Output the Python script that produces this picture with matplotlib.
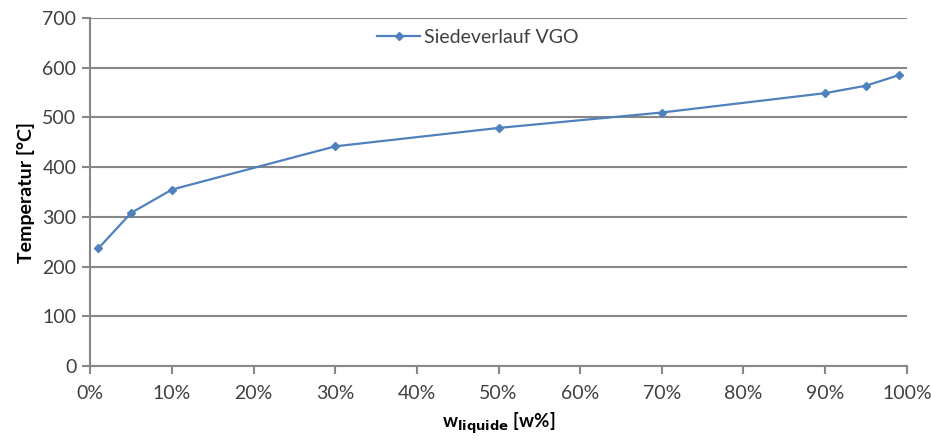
import numpy as np
import matplotlib.pyplot as plt
from matplotlib.ticker import FuncFormatter

plt.rcParams['font.family'] = ['Lato', 'DejaVu Sans']

# boiling curve VGO
w_liquide = [1, 5, 10, 30, 50, 70, 90, 95, 99]
temperatur = [237, 308, 355, 442, 479, 510, 549, 564, 585]
series_name = 'Siedeverlauf VGO'

grid_col = '#878787'
line_col = '#4F81BD'

fig = plt.figure(figsize=(9.31, 4.41), dpi=100)
ax = fig.add_axes([0.097, 0.17, 0.877, 0.789])

ax.plot(w_liquide, temperatur, color=line_col, lw=1.6, marker='D', ms=4.5,
        label=series_name)

ax.set_xlim(0, 100)
ax.set_ylim(0, 700)
ax.set_xticks(np.arange(0, 101, 10))
ax.set_yticks(np.arange(0, 701, 100))
ax.xaxis.set_major_formatter(FuncFormatter(lambda v, p: f'{v:.0f}%'))

ax.grid(axis='y', color=grid_col, lw=1.5)
ax.set_axisbelow(True)
for s in ['top', 'right']:
    ax.spines[s].set_visible(False)
for s in ['left', 'bottom']:
    ax.spines[s].set_color(grid_col)
    ax.spines[s].set_linewidth(1.5)
ax.tick_params(axis='both', colors=grid_col, length=6, width=1.5,
               labelcolor='#404040', labelsize=14)
ax.tick_params(axis='x', pad=8)
ax.tick_params(axis='y', pad=4)

ax.set_ylabel('Temperatur [°C]', fontsize=14, fontweight='bold', labelpad=5)
ax.set_xlabel(r'w$_{\mathbf{liquide}}$ [w%]', fontsize=13.5, fontweight='bold', labelpad=6)

ax.legend(loc='upper left', bbox_to_anchor=(0.33, 1.02), frameon=False,
          fontsize=14, handlelength=2.2, handletextpad=0.2, labelcolor='#404040')

fig.savefig('out.png', dpi=100)
